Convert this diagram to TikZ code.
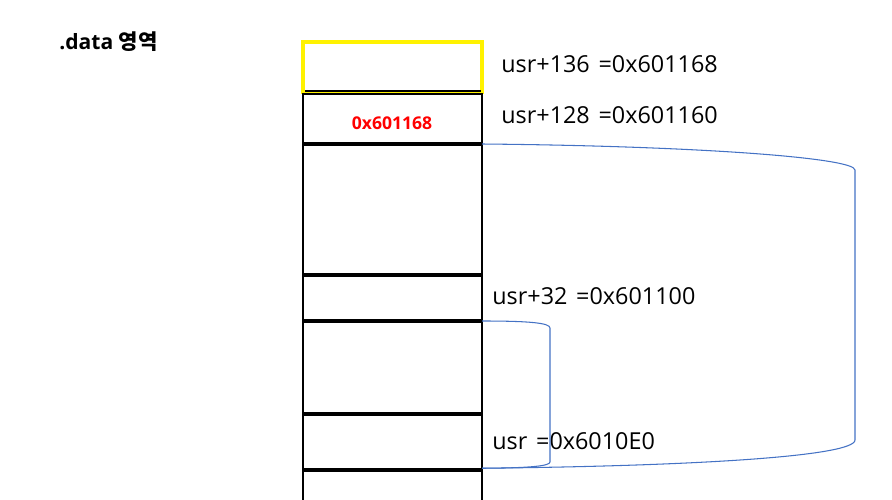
\documentclass[tikz,border=0pt]{standalone}
\usepackage{fontspec}
\setmainfont{Open Sans}
\newfontfamily\kofont{Noto Sans CJK KR}
\usetikzlibrary{positioning}
\definecolor{linkblue}{RGB}{68,114,196}
\tikzstyle{cell}=[draw=black,line width=0.7pt]
\tikzstyle{sep}=[draw=black,line width=2.8pt]
\tikzstyle{topcell}=[draw=yellow,line width=2.1pt]
\tikzstyle{addr}=[anchor=west,inner sep=0pt,font=\fontsize{13.3}{15}\selectfont]
\tikzstyle{value}=[text=red,inner sep=0pt,font=\bfseries\fontsize{10}{12}\selectfont]
\tikzstyle{link}=[draw=linkblue,line width=0.6pt]

\begin{document}
\begin{tikzpicture}[x=0.02cm,y=-0.02cm]
    \useasboundingbox (0,0) rectangle (892,500);

    \node[anchor=west,inner sep=0pt,font=\bfseries\fontsize{12}{14}\selectfont] (title) at (59,42) {.data {\kofont 영역}};

    % memory column
    \draw[topcell] (303,42) rectangle (482,92);
    \draw[cell] (305,91) -- (481,91);
    \draw[cell] (303,500) -- (303,94) -- (482,94) -- (482,500);
    \node[value] (val) at (392,123) {0x601168};

    \foreach \y/\name in {144/s1, 275/s2, 321/s3, 414/s4, 470/s5}
        \draw[sep] (303,\y) -- (482,\y) coordinate (\name);

    % addresses
    \foreach \pos/\name/\txt in {{(501,64)/a136/usr+136\hspace{5pt}=0x601168}, {(501,115)/a128/usr+128\hspace{5pt}=0x601160},
        {(492,296)/a32/usr+32\hspace{5pt}=0x601100}, {(492,441)/a0/usr\hspace{5pt}=0x6010E0}}
        \node[addr] (\name) at \pos {\txt};

    % brackets
    \coordinate (bigtop) at (855,170);
    \coordinate (bigbot) at (855,440);
    \coordinate (smalltop) at (550,328);
    \coordinate (smallbot) at (550,462);
    \path[link] (s1) .. controls (700,146) and (855,158) .. (bigtop) -- (bigbot)
        .. controls (855,456) and (700,466) .. ([yshift=1pt]s5);
    \path[link] (s3) .. controls (530,321) and (550,323) .. (smalltop) -- (smallbot)
        .. controls (550,466) and (530,468) .. ([yshift=1pt]s5);

\end{tikzpicture}
\end{document}
